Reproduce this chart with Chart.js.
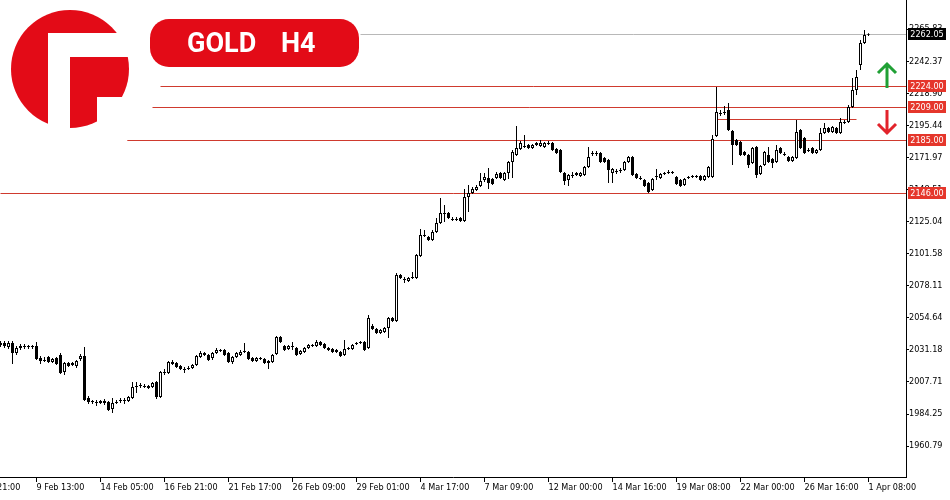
<!DOCTYPE html>
<html>
<head>
<meta charset="utf-8">
<title>GOLD H4</title>
<script src="https://cdn.jsdelivr.net/npm/chart.js@4.4.1/dist/chart.umd.min.js"></script>
<style>
  html, body { margin: 0; padding: 0; background: #fff; }
  #wrap { width: 950px; height: 500px; }
</style>
</head>
<body>
<div id="wrap"><canvas id="chart" width="950" height="500"></canvas></div>
<script>
// H4 candles, oldest first
const open = [
  2036.24, 2036.24, 2033.31, 2036.24, 2028.92, 2032.58, 2034.04, 2033.31, 2034.04, 2034.04,
  2025.26, 2023.07, 2025.99, 2022.34, 2025.26, 2027.46, 2015.02, 2021.60, 2021.60, 2019.41,
  2024.53, 2026.73, 1995.99, 1993.80, 1993.07, 1992.34, 1993.80, 1993.07, 1987.95, 1992.34,
  1993.80, 1994.53, 1993.80, 1995.99, 2004.04, 2004.77, 2004.77, 2004.77, 2004.04, 2007.70,
  1996.73, 2015.02, 2014.29, 2022.34, 2021.60, 2019.41, 2017.21, 2017.21, 2017.95, 2020.14,
  2025.99, 2028.92, 2027.46, 2025.26, 2028.92, 2031.12, 2031.12, 2028.92, 2022.34, 2025.99,
  2027.46, 2029.65, 2029.65, 2025.26, 2023.07, 2025.26, 2024.53, 2021.60, 2022.34, 2028.19,
  2040.62, 2034.04, 2031.85, 2034.04, 2032.58, 2028.19, 2029.65, 2032.58, 2034.77, 2034.04,
  2036.97, 2035.50, 2032.58, 2031.85, 2031.12, 2029.65, 2027.46, 2031.85, 2031.85, 2035.50,
  2036.24, 2036.97, 2032.58, 2048.67, 2046.48, 2043.55, 2044.28, 2047.21, 2054.53, 2052.33,
  2085.98, 2083.05, 2081.59, 2083.78, 2083.78, 2099.87, 2115.24, 2113.77, 2111.58, 2117.43,
  2124.01, 2131.33, 2131.33, 2126.94, 2126.21, 2127.67, 2125.48, 2143.03, 2145.96, 2148.15,
  2151.08, 2155.46, 2156.92, 2156.19, 2156.92, 2160.58, 2155.46, 2160.58, 2168.63, 2173.75,
  2178.14, 2180.34, 2181.07, 2178.87, 2182.53, 2180.34, 2179.60, 2182.53, 2182.53, 2178.14,
  2177.41, 2160.58, 2155.46, 2159.12, 2159.12, 2158.39, 2159.12, 2164.97, 2174.48, 2175.21,
  2175.21, 2171.56, 2170.09, 2160.58, 2162.05, 2162.05, 2162.78, 2168.63, 2172.29, 2159.85,
  2156.92, 2155.46, 2153.27, 2148.15, 2157.66, 2156.92, 2159.85, 2160.58, 2161.31, 2157.66,
  2155.46, 2151.81, 2156.92, 2157.66, 2158.39, 2158.39, 2155.46, 2157.66, 2157.66, 2187.65,
  2204.48, 2204.48, 2206.67, 2191.31, 2184.73, 2183.26, 2175.95, 2173.75, 2167.90, 2179.60,
  2159.85, 2166.44, 2173.75, 2170.83, 2168.63, 2178.87, 2174.48, 2172.29, 2169.36, 2171.56,
  2192.04, 2186.19, 2177.41, 2178.87, 2175.21, 2177.41, 2189.85, 2193.51, 2190.58, 2193.51,
  2189.85, 2197.90, 2197.90, 2208.87, 2221.31, 2239.59, 2255.69, 2261.54
];
const high = [
  2037.70, 2037.70, 2037.70, 2037.70, 2034.04, 2035.50, 2035.50, 2034.77, 2034.77, 2036.97,
  2026.73, 2025.99, 2026.73, 2025.26, 2025.99, 2028.92, 2022.34, 2022.34, 2022.34, 2023.80,
  2028.19, 2033.31, 1997.46, 1994.53, 1994.53, 1994.53, 1995.26, 1993.80, 1995.99, 1994.53,
  1995.99, 1995.99, 1997.46, 2007.70, 2007.70, 2006.97, 2006.24, 2005.51, 2007.70, 2008.43,
  2015.75, 2017.21, 2023.07, 2023.80, 2022.34, 2020.14, 2018.68, 2019.41, 2020.87, 2027.46,
  2030.38, 2029.65, 2028.19, 2029.65, 2032.58, 2031.85, 2031.85, 2029.65, 2026.73, 2029.65,
  2031.12, 2036.24, 2030.38, 2025.99, 2025.99, 2025.99, 2025.26, 2023.80, 2028.19, 2041.36,
  2041.36, 2034.77, 2034.77, 2036.97, 2033.31, 2031.12, 2033.31, 2035.50, 2035.50, 2038.43,
  2037.70, 2036.24, 2033.31, 2032.58, 2031.85, 2030.38, 2038.43, 2033.31, 2035.50, 2036.97,
  2037.70, 2037.70, 2056.72, 2050.14, 2047.21, 2046.48, 2047.94, 2055.26, 2055.26, 2087.44,
  2086.71, 2084.51, 2084.51, 2088.17, 2101.34, 2119.63, 2118.89, 2114.51, 2118.89, 2127.67,
  2142.30, 2137.18, 2132.06, 2128.41, 2128.41, 2128.41, 2148.89, 2151.81, 2150.35, 2151.81,
  2160.58, 2160.58, 2164.24, 2156.92, 2161.31, 2161.31, 2161.31, 2169.36, 2177.41, 2194.97,
  2183.99, 2188.38, 2181.80, 2181.80, 2183.26, 2184.73, 2183.26, 2183.99, 2183.26, 2178.87,
  2178.14, 2161.31, 2159.85, 2161.31, 2161.31, 2161.31, 2165.70, 2179.60, 2176.68, 2176.68,
  2175.95, 2172.29, 2170.83, 2164.24, 2163.51, 2164.24, 2169.36, 2173.02, 2173.02, 2160.58,
  2158.39, 2156.19, 2154.00, 2156.92, 2163.51, 2160.58, 2161.31, 2162.78, 2162.05, 2158.39,
  2156.19, 2156.92, 2158.39, 2159.12, 2159.12, 2159.12, 2159.12, 2165.70, 2188.38, 2223.50,
  2206.67, 2209.60, 2211.80, 2192.04, 2185.46, 2183.99, 2176.68, 2174.48, 2179.60, 2180.34,
  2166.44, 2176.68, 2179.60, 2171.56, 2181.07, 2179.60, 2175.95, 2173.02, 2173.02, 2199.36,
  2192.77, 2186.92, 2178.87, 2179.60, 2178.14, 2193.51, 2197.16, 2194.24, 2194.97, 2194.24,
  2200.83, 2199.36, 2210.33, 2230.08, 2235.94, 2257.88, 2265.19, 2262.79
];
const low = [
  2033.31, 2032.58, 2031.85, 2020.87, 2027.46, 2031.12, 2031.85, 2031.85, 2031.85, 2023.80,
  2020.87, 2022.34, 2021.60, 2021.60, 2020.14, 2013.56, 2012.82, 2018.68, 2019.41, 2017.95,
  2023.07, 1993.80, 1991.60, 1991.60, 1990.14, 1991.60, 1990.87, 1986.48, 1985.02, 1991.60,
  1992.34, 1991.60, 1993.07, 1995.26, 1999.65, 2003.31, 2003.31, 2002.58, 2003.31, 1995.26,
  1995.99, 2012.82, 2013.56, 2020.14, 2017.95, 2016.48, 2014.29, 2016.48, 2017.21, 2019.41,
  2025.26, 2026.73, 2023.07, 2023.80, 2028.19, 2029.65, 2026.73, 2021.60, 2020.87, 2025.26,
  2026.73, 2028.92, 2023.80, 2022.34, 2022.34, 2023.80, 2020.87, 2017.21, 2021.60, 2027.46,
  2036.24, 2030.38, 2031.12, 2031.12, 2026.73, 2027.46, 2028.92, 2031.85, 2033.31, 2033.31,
  2034.04, 2031.85, 2030.38, 2028.92, 2028.92, 2025.99, 2026.73, 2031.12, 2031.12, 2034.77,
  2035.50, 2030.38, 2031.85, 2045.75, 2042.82, 2042.82, 2043.55, 2039.89, 2051.60, 2051.60,
  2083.05, 2080.12, 2080.86, 2083.05, 2083.05, 2099.14, 2113.77, 2110.85, 2110.85, 2116.70,
  2123.28, 2124.75, 2126.94, 2125.48, 2125.48, 2124.75, 2124.75, 2132.06, 2145.23, 2147.42,
  2150.35, 2154.00, 2148.89, 2151.81, 2156.19, 2156.19, 2154.73, 2156.19, 2156.92, 2173.02,
  2177.41, 2178.87, 2178.14, 2178.14, 2180.34, 2179.60, 2178.87, 2181.07, 2176.68, 2174.48,
  2160.58, 2151.81, 2151.08, 2156.92, 2158.39, 2157.66, 2158.39, 2164.24, 2173.02, 2173.02,
  2167.90, 2167.90, 2153.27, 2153.27, 2159.85, 2160.58, 2162.05, 2167.90, 2158.39, 2156.19,
  2155.46, 2150.35, 2145.96, 2147.42, 2155.46, 2156.19, 2159.12, 2159.85, 2159.85, 2151.81,
  2150.35, 2151.08, 2156.19, 2156.92, 2156.92, 2154.73, 2154.73, 2156.92, 2156.92, 2186.92,
  2202.29, 2203.02, 2191.31, 2166.44, 2180.34, 2173.02, 2173.02, 2164.24, 2167.17, 2156.92,
  2159.12, 2165.70, 2167.90, 2164.24, 2167.90, 2174.48, 2173.02, 2168.63, 2168.63, 2170.83,
  2178.14, 2174.48, 2175.95, 2174.48, 2174.48, 2176.68, 2189.12, 2189.85, 2189.85, 2189.12,
  2189.12, 2196.43, 2197.16, 2208.14, 2217.65, 2235.94, 2254.95, 2260.81
];
const close = [
  2034.77, 2034.04, 2036.24, 2028.92, 2032.58, 2034.04, 2033.31, 2034.04, 2033.31, 2024.53,
  2023.07, 2023.80, 2022.34, 2024.53, 2020.87, 2014.29, 2021.60, 2019.41, 2020.14, 2023.07,
  2026.73, 1994.53, 1993.07, 1993.07, 1992.34, 1993.80, 1992.34, 1987.21, 1992.34, 1993.07,
  1994.53, 1993.80, 1996.73, 2004.04, 2004.77, 2005.51, 2004.04, 2003.31, 2006.97, 1996.73,
  2015.02, 2014.29, 2022.34, 2020.87, 2018.68, 2017.21, 2016.48, 2017.95, 2020.14, 2026.73,
  2028.92, 2027.46, 2023.80, 2028.92, 2031.12, 2030.38, 2027.46, 2022.34, 2025.99, 2028.92,
  2029.65, 2030.38, 2024.53, 2023.07, 2025.26, 2024.53, 2021.60, 2023.07, 2027.46, 2040.62,
  2036.97, 2031.12, 2034.04, 2033.31, 2027.46, 2030.38, 2032.58, 2034.77, 2034.04, 2036.97,
  2034.77, 2032.58, 2031.12, 2029.65, 2029.65, 2026.73, 2031.85, 2032.58, 2034.77, 2036.24,
  2036.97, 2031.12, 2054.53, 2046.48, 2043.55, 2045.75, 2047.21, 2054.53, 2052.33, 2085.98,
  2083.78, 2082.32, 2083.78, 2084.51, 2100.61, 2115.24, 2114.51, 2111.58, 2117.43, 2124.01,
  2131.33, 2130.60, 2127.67, 2126.21, 2126.94, 2125.48, 2143.03, 2145.96, 2148.89, 2150.35,
  2154.73, 2157.66, 2153.27, 2152.53, 2159.85, 2156.92, 2160.58, 2168.63, 2175.95, 2178.87,
  2182.53, 2179.60, 2178.87, 2181.07, 2181.07, 2182.53, 2182.53, 2181.80, 2177.41, 2175.21,
  2161.31, 2154.73, 2159.12, 2158.39, 2160.58, 2160.58, 2164.97, 2172.29, 2175.21, 2174.48,
  2168.63, 2168.63, 2162.78, 2163.51, 2161.31, 2162.78, 2168.63, 2172.29, 2159.12, 2156.92,
  2156.19, 2151.08, 2146.69, 2156.19, 2158.39, 2159.85, 2160.58, 2161.31, 2160.58, 2152.53,
  2151.08, 2156.19, 2157.66, 2158.39, 2157.66, 2155.46, 2158.39, 2164.97, 2185.46, 2205.21,
  2203.75, 2205.21, 2192.04, 2181.07, 2181.07, 2173.75, 2173.75, 2166.44, 2178.87, 2159.12,
  2165.70, 2175.95, 2168.63, 2167.90, 2177.41, 2175.21, 2173.75, 2169.36, 2172.29, 2190.58,
  2178.87, 2175.21, 2176.68, 2175.21, 2177.41, 2189.85, 2193.51, 2190.58, 2194.24, 2189.85,
  2197.90, 2197.16, 2208.87, 2221.31, 2230.82, 2255.69, 2261.54, 2262.05
];

// time axis: one label every 16 bars
const tickLabels = [
  '9 Feb 13:00', '14 Feb 05:00', '16 Feb 21:00', '21 Feb 17:00', '26 Feb 09:00',
  '29 Feb 01:00', '4 Mar 17:00', '7 Mar 09:00', '12 Mar 00:00', '14 Mar 16:00',
  '19 Mar 08:00', '22 Mar 00:00', '26 Mar 16:00', '1 Apr 08:00'
];
const firstTickBar = 9;
const barsPerTick = 16;
const cutLabel = '6 Feb 21:00';

const priceTicks = [
  1960.79, 1984.25, 2007.71, 2031.18, 2054.64, 2078.11, 2101.58,
  2125.04, 2148.51, 2171.97, 2195.44, 2218.90, 2242.37, 2265.83
];

// horizontal levels and the bar each one starts on
const levelPrices = [2224.00, 2209.00, 2185.00, 2146.00];
const levelFrom = [40, 38, 31.7, 0];
const shortLevel = 2199.80;
const shortFrom = 179;
const shortTo = 214;
const lastPrice = 2262.05;
const lastFrom = 90;

const AXIS_FONT = "'DejaVu Sans Condensed', 'Liberation Sans', sans-serif";
const RED = '#e30b17';
const LINE_RED = '#cf3a2e';

const bars = open.map((o, i) => i);

const overlay = {
  id: 'overlay',
  beforeDatasetsDraw(chart) {
    const { ctx, chartArea, scales: { x, y } } = chart;
    const hline = (x1, x2, py) => {
      const yy = Math.round(py) + 0.5;
      ctx.beginPath();
      ctx.moveTo(x1, yy);
      ctx.lineTo(x2, yy);
      ctx.stroke();
    };
    ctx.save();
    ctx.lineWidth = 1;
    ctx.strokeStyle = '#b8b8b8';
    hline(x.getPixelForValue(lastFrom), chartArea.right, y.getPixelForValue(lastPrice));
    ctx.strokeStyle = LINE_RED;
    levelPrices.forEach((p, i) => {
      hline(Math.max(x.getPixelForValue(levelFrom[i]), 0), chartArea.right, y.getPixelForValue(p));
    });
    hline(x.getPixelForValue(shortFrom), x.getPixelForValue(shortTo), y.getPixelForValue(shortLevel));
    ctx.restore();
  },
  afterDraw(chart) {
    const { ctx, chartArea, scales: { x, y } } = chart;
    ctx.save();

    // price tags on the right axis
    const tag = (price, fill) => {
      const py = Math.round(y.getPixelForValue(price));
      ctx.fillStyle = fill;
      ctx.fillRect(chartArea.right + 2, py - 6, 38, 12);
      ctx.fillStyle = '#fff';
      ctx.font = '9px ' + AXIS_FONT;
      ctx.textAlign = 'center';
      ctx.textBaseline = 'middle';
      ctx.fillText(price.toFixed(2), chartArea.right + 21, py + 0.5);
    };
    levelPrices.forEach(p => tag(p, '#e5362b'));
    tag(lastPrice, '#000');

    // first label is cut by the left edge
    ctx.fillStyle = '#000';
    ctx.font = '9px ' + AXIS_FONT;
    ctx.textAlign = 'left';
    ctx.textBaseline = 'middle';
    ctx.fillText(cutLabel, x.getPixelForValue(firstTickBar - barsPerTick), chartArea.bottom + 5 + 5.4);

    // arrows
    ctx.lineWidth = 3;
    ctx.strokeStyle = '#20a035';
    ctx.beginPath();
    ctx.moveTo(887, 88); ctx.lineTo(887, 65);
    ctx.moveTo(878, 73); ctx.lineTo(887, 64); ctx.lineTo(896, 73);
    ctx.stroke();
    ctx.strokeStyle = '#e2232b';
    ctx.beginPath();
    ctx.moveTo(887, 110); ctx.lineTo(887, 132);
    ctx.moveTo(878, 124); ctx.lineTo(887, 133); ctx.lineTo(896, 124);
    ctx.stroke();

    // title pill
    ctx.fillStyle = RED;
    ctx.beginPath();
    ctx.roundRect(150, 19, 209, 48, 19);
    ctx.fill();
    ctx.fillStyle = '#fff';
    ctx.font = 'bold 27px Roboto, sans-serif';
    ctx.textAlign = 'left';
    ctx.textBaseline = 'alphabetic';
    ctx.fillText('GOLD', 187, 52);
    ctx.fillText('H4', 281, 52);

    // logo
    ctx.fillStyle = RED;
    ctx.beginPath();
    ctx.arc(70, 69, 59, 0, Math.PI * 2);
    ctx.fill();
    ctx.fillStyle = '#fff';
    ctx.fillRect(48, 33, 22, 100);
    ctx.fillRect(48, 33, 90, 24);
    ctx.fillRect(97, 97, 40, 40);

    ctx.restore();
  }
};

new Chart(document.getElementById('chart'), {
  type: 'bar',
  data: {
    datasets: [
      {
        label: 'body',
        data: bars.map(i => ({ x: i, y: [Math.min(open[i], close[i]), Math.max(open[i], close[i])] })),
        backgroundColor: bars.map(i => close[i] >= open[i] ? '#fff' : '#000'),
        borderColor: '#000',
        borderWidth: 1,
        borderSkipped: false,
        barThickness: 3,
        inflateAmount: 0,
        grouped: false,
        order: 0
      },
      {
        label: 'wick',
        data: bars.map(i => ({ x: i, y: [low[i], high[i]] })),
        backgroundColor: '#000',
        borderWidth: 0,
        barThickness: 1,
        inflateAmount: 0,
        grouped: false,
        order: 1
      }
    ]
  },
  options: {
    responsive: false,
    animation: false,
    devicePixelRatio: 1,
    layout: { padding: 0 },
    plugins: { legend: { display: false }, tooltip: { enabled: false } },
    scales: {
      x: {
        type: 'linear',
        min: -0.125,
        max: 226.375,
        offset: false,
        afterBuildTicks: scale => {
          scale.ticks = tickLabels.map((t, j) => ({ value: firstTickBar + j * barsPerTick }));
        },
        afterFit: scale => { scale.height = 23; scale.paddingLeft = 0; scale.paddingRight = 0; },
        grid: { drawOnChartArea: false, offset: false, tickLength: 5, color: '#000' },
        border: { color: '#000' },
        ticks: {
          autoSkip: false,
          maxRotation: 0,
          align: 'start',
          padding: 0,
          color: '#000',
          font: { family: AXIS_FONT, size: 9 },
          callback: (v, idx) => tickLabels[idx]
        }
      },
      y: {
        position: 'right',
        min: 1938.2,
        max: 2287.14,
        afterBuildTicks: scale => {
          scale.ticks = priceTicks.map(v => ({ value: v }));
        },
        afterFit: scale => { scale.width = 44; scale.paddingTop = 0; scale.paddingBottom = 0; },
        grid: { drawOnChartArea: false, tickLength: 3, color: '#000' },
        border: { color: '#000' },
        ticks: {
          padding: 0,
          color: '#000',
          font: { family: AXIS_FONT, size: 9 },
          callback: v => Number(v).toFixed(2)
        }
      }
    }
  },
  plugins: [overlay]
});
</script>
</body>
</html>
